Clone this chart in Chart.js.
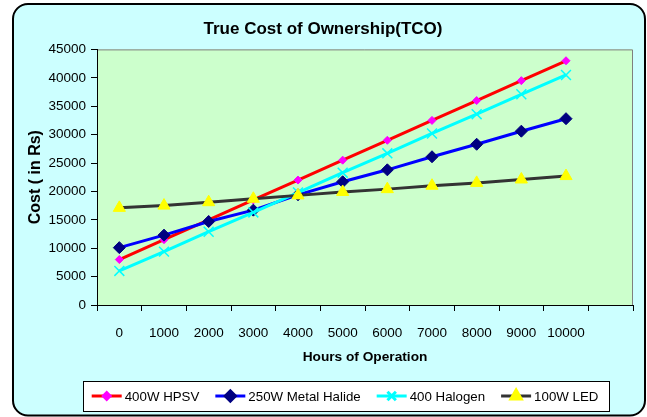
<!DOCTYPE html>
<html>
<head>
<meta charset="utf-8">
<script src="https://cdn.jsdelivr.net/npm/chart.js@4/dist/chart.umd.min.js"></script>
<style>
  html, body { margin: 0; padding: 0; background: #ffffff; }
  #tco { display: block; }
</style>
</head>
<body>
<canvas id="tco" width="647" height="417"></canvas>
<script>
// hours of operation (last category is an empty slot, as in the original sheet)
const hours = ['0', '1000', '2000', '3000', '4000', '5000', '6000', '7000', '8000', '9000', '10000', ''];

const hpsv400 = [8000, 11500, 15000, 18500, 22000, 25500, 29000, 32500, 36000, 39500, 43000];
const metalHalide250 = [10100, 12300, 14700, 16700, 19400, 21700, 23800, 26100, 28300, 30600, 32800];
const halogen400 = [6000, 9400, 12900, 16300, 19800, 23300, 26700, 30200, 33600, 37100, 40500];
const led100 = [17100, 17500, 18100, 18700, 19300, 19900, 20400, 21000, 21500, 22100, 22700];

const seriesNames = ['400W HPSV', '250W Metal Halide', '400 Halogen', '100W LED'];

const FONT = "'Liberation Sans', Arial, sans-serif";

// outer rounded frame + plot area fill
const frame = {
  id: 'frame',
  beforeDraw(chart) {
    const ctx = chart.ctx;
    const a = chart.chartArea;
    ctx.save();
    ctx.fillStyle = '#ffffff';
    ctx.fillRect(0, 0, chart.width, chart.height);
    ctx.beginPath();
    ctx.roundRect(13, 4, 632, 411.5, 15);
    ctx.fillStyle = '#ccffff';
    ctx.fill();
    ctx.lineWidth = 2;
    ctx.strokeStyle = '#000000';
    ctx.stroke();
    ctx.fillStyle = '#ccffcc';
    ctx.fillRect(a.left, a.top, a.right - a.left, a.bottom - a.top);
    ctx.beginPath();
    ctx.moveTo(a.left, a.top + 0.5);
    ctx.lineTo(a.right - 0.5, a.top + 0.5);
    ctx.lineTo(a.right - 0.5, a.bottom);
    ctx.lineWidth = 1;
    ctx.strokeStyle = '#808080';
    ctx.stroke();
    ctx.restore();
  }
};

// boxed legend under the axis title
const boxLegend = {
  id: 'boxLegend',
  afterDraw(chart) {
    const ctx = chart.ctx;
    const cy = 396;
    ctx.save();
    ctx.fillStyle = '#ffffff';
    ctx.fillRect(83, 381, 526, 30);
    ctx.lineWidth = 1;
    ctx.strokeStyle = '#000000';
    ctx.strokeRect(83.5, 381.5, 526, 30);
    ctx.font = '13.3px ' + FONT;
    ctx.textBaseline = 'middle';
    ctx.textAlign = 'left';
    let x = 91.7;
    chart.data.datasets.forEach(ds => {
      ctx.beginPath();
      ctx.moveTo(x, cy);
      ctx.lineTo(x + 30, cy);
      ctx.lineWidth = 3;
      ctx.strokeStyle = ds.borderColor;
      ctx.stroke();
      ctx.fillStyle = ds.pointBackgroundColor;
      ctx.strokeStyle = ds.pointBorderColor;
      Chart.helpers.drawPoint(ctx, {
        pointStyle: ds.pointStyle,
        radius: ds.pointRadius * 0.85,
        rotation: 0,
        borderWidth: ds.pointBorderWidth
      }, x + 15, cy);
      ctx.fillStyle = '#000000';
      ctx.fillText(ds.label, x + 33, cy + 1);
      x += 33 + ctx.measureText(ds.label).width + 16;
    });
    ctx.restore();
  }
};

new Chart(document.getElementById('tco'), {
  type: 'line',
  data: {
    labels: hours,
    datasets: [
      {
        label: seriesNames[0],
        data: hpsv400,
        borderColor: '#ff0000',
        borderWidth: 3,
        pointStyle: 'rectRot',
        pointRadius: 4,
        pointBackgroundColor: '#ff00ff',
        pointBorderColor: '#ff00ff',
        pointBorderWidth: 1,
        order: 4
      },
      {
        label: seriesNames[1],
        data: metalHalide250,
        borderColor: '#0000ff',
        borderWidth: 3,
        pointStyle: 'rectRot',
        pointRadius: 6,
        pointBackgroundColor: '#000080',
        pointBorderColor: '#000080',
        pointBorderWidth: 1,
        order: 3
      },
      {
        label: seriesNames[2],
        data: halogen400,
        borderColor: '#00ffff',
        borderWidth: 3,
        pointStyle: 'crossRot',
        pointRadius: 7,
        pointBackgroundColor: '#00ffff',
        pointBorderColor: '#00ffff',
        pointBorderWidth: 1.5,
        order: 2
      },
      {
        label: seriesNames[3],
        data: led100,
        borderColor: '#333333',
        borderWidth: 3,
        pointStyle: 'triangle',
        pointRadius: 7,
        pointBackgroundColor: '#ffff00',
        pointBorderColor: '#ffff00',
        pointBorderWidth: 1,
        order: 1
      }
    ]
  },
  options: {
    responsive: false,
    animation: false,
    layout: { padding: { left: 13, right: 14, top: 4, bottom: 3 } },
    elements: { line: { tension: 0 } },
    plugins: {
      legend: { display: false },
      tooltip: { enabled: false },
      title: {
        display: true,
        text: 'True Cost of Ownership(TCO)',
        color: '#000000',
        font: { family: FONT, size: 17, weight: 'bold' },
        padding: { top: 15.5, bottom: 9.5 }
      }
    },
    scales: {
      x: {
        offset: true,
        grid: { offset: true, drawOnChartArea: false, color: '#000000', tickLength: 6 },
        border: { color: '#000000', width: 1 },
        ticks: { color: '#000000', font: { family: FONT, size: 13.5 }, padding: 14, maxRotation: 0, autoSkip: false },
        title: {
          display: true,
          text: 'Hours of Operation',
          color: '#000000',
          font: { family: FONT, size: 13.7, weight: 'bold' },
          padding: { top: 0, bottom: 48.5 }
        },
        afterFit(scale) { scale.height = 109; }
      },
      y: {
        min: 0,
        max: 45000,
        grid: { drawOnChartArea: false, color: '#000000', tickLength: 6 },
        border: { color: '#000000', width: 1 },
        ticks: {
          stepSize: 5000,
          color: '#000000',
          font: { family: FONT, size: 13.5 },
          padding: 5,
          callback: v => String(v)
        },
        title: {
          display: true,
          text: 'Cost ( in Rs)',
          color: '#000000',
          font: { family: FONT, size: 16, weight: 'bold' },
          padding: { top: 13, bottom: 0 }
        },
        afterFit(scale) { scale.width = 84; }
      }
    }
  },
  plugins: [frame, boxLegend]
});
</script>
</body>
</html>
